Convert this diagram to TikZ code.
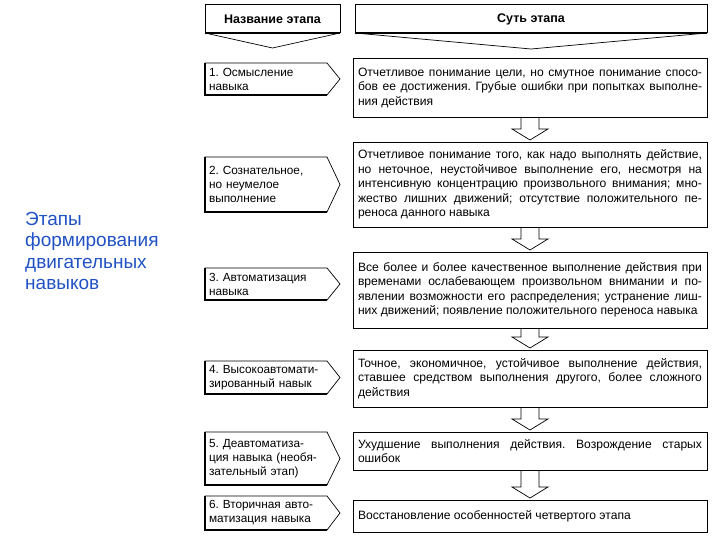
\documentclass[tikz,border=0pt]{standalone}
\usepackage{fontspec}
\setmainfont{Liberation Sans}
\usetikzlibrary{calc}

\definecolor{titleblue}{RGB}{32,82,196}

\tikzset{stage/.style = {inner ysep = 0, inner xsep = 4, outer sep = 0, minimum width = 122,
                         minimum height = #1, text width = 114, align = left,
                         font = \fontsize{11.8}{14}\selectfont}}
\tikzset{essence/.style = {draw, line width = 0.7pt, inner sep = 0, outer sep = 0,
                           minimum width = 354, minimum height = #1, text width = 344,
                           align = justify, font = \fontsize{12.1}{14.5}\selectfont}}
\tikzset{headbox/.style = {draw, line width = 1pt, inner sep = 0, outer sep = 0,
                           minimum height = 28, font = \bfseries\fontsize{12.5}{14}\selectfont}}
\tikzset{arrowline/.style = {line width = 0.7pt, line join = miter}}

\newcommand\stagearrow[2]{%
  \draw [arrowline] let \p1 = (#1.south), \p2 = (#2.north) in
    (\x1-9pt, \y1) -- (\x1-9pt, \y2+13pt) -- (\x1-18pt, \y2+13pt) -- (\x1, \y2+2pt)
    -- (\x1+18pt, \y2+13pt) -- (\x1+9pt, \y2+13pt) -- (\x1+9pt, \y1);}

\begin{document}
\frenchspacing
\begin{tikzpicture}[x = 1pt, y = -1pt]
  \useasboundingbox (0, 0) rectangle (720, 540);
  \hyphenpenalty = 10000
  \tolerance = 9999
  \emergencystretch = 20pt

  % column heads
  \node [headbox, minimum width = 135] (hl) at (272.5, 19) {Название этапа};
  \node [headbox, minimum width = 352] (hr) at (531, 19) {Суть этапа};
  \draw [line width = 1.6pt] (hl.south west) -- (hl.south east);
  \draw [line width = 1.6pt] (hr.south west) -- (hr.south east);
  \coordinate (hltip) at ($(hl.south) + (0, 15)$);
  \coordinate (hrtip) at ($(hr.south) + (0, 16)$);
  \draw [line width = 0.7pt] (hl.south west) -- (hltip) -- (hl.south east);
  \draw [line width = 0.7pt] (hr.south west) -- (hrtip) -- (hr.south east);

  % title
  \node [text = titleblue, align = left, anchor = west, inner sep = 0,
         font = \fontsize{19}{21.5}\selectfont] (title) at (25, 251)
    {Этапы\\формирования\\двигательных\\навыков};

  % stages
  \node [stage = 32] (l1) at (266, 79) {1. Осмысление\\навыка};
  \node [stage = 55] (l2) at (266, 184.5) {2. Сознательное,\\но неумелое\\выполнение};
  \node [stage = 32] (l3) at (266, 284) {3. Автоматизация\\навыка};
  \node [stage = 33] (l4) at (266, 377.5) {4. Высокоавтомати-\\зированный навык};
  \node [stage = 53] (l5) at (266, 458.5) {5. Деавтоматиза-\\ция навыка (необя-\\зательный этап)};
  \node [stage = 34] (l6) at (266, 513) {6. Вторичная авто-\\матизация навыка};
  \foreach \n in {l1, l2, l3, l4, l5, l6} {
    \draw [line width = 0.7pt] (\n.north west) -- (\n.north east) -- ($(\n.east) + (13, 0)$)
      -- (\n.south east) -- (\n.south west) -- cycle;
    \draw [line width = 1.5pt] (\n.north west) -- (\n.south west) -- (\n.south east);
  }

  % essence of each stage
  \node [essence = 59] (r1) at (530, 87.5)
    {Отчетливое понимание цели, но смутное понимание спосо-\linebreak
     бов ее достижения. Грубые ошибки при попытках выполне-\linebreak
     ния действия};
  \node [essence = 85] (r2) at (530, 184.5)
    {Отчетливое понимание того, как надо выполнять действие,\linebreak
     но неточное, неустойчивое выполнение его, несмотря на\linebreak
     интенсивную концентрацию произвольного внимания; мно-\linebreak
     жество лишних движений; отсутствие положительного пе-\linebreak
     реноса данного навыка};
  \node [essence = 76] (r3) at (530, 290)
    {Все более и более качественное выполнение действия при\linebreak
     временами ослабевающем произвольном внимании и по-\linebreak
     явлении возможности его распределения; устранение лиш-\linebreak
     них движений; появление положительного переноса навыка};
  \node [essence = 57] (r4) at (530, 378.5)
    {Точное, экономичное, устойчивое выполнение действия,\linebreak
     ставшее средством выполнения другого, более сложного\linebreak
     действия};
  \node [essence = 38] (r5) at (530, 451)
    {Ухудшение выполнения действия. Возрождение старых\linebreak
     ошибок};
  \node [essence = 32] (r6) at (530, 516)
    {Восстановление особенностей четвертого этапа};

  \foreach \a/\b in {r1/r2, r2/r3, r3/r4, r4/r5, r5/r6}
    \stagearrow{\a}{\b};
\end{tikzpicture}
\end{document}
